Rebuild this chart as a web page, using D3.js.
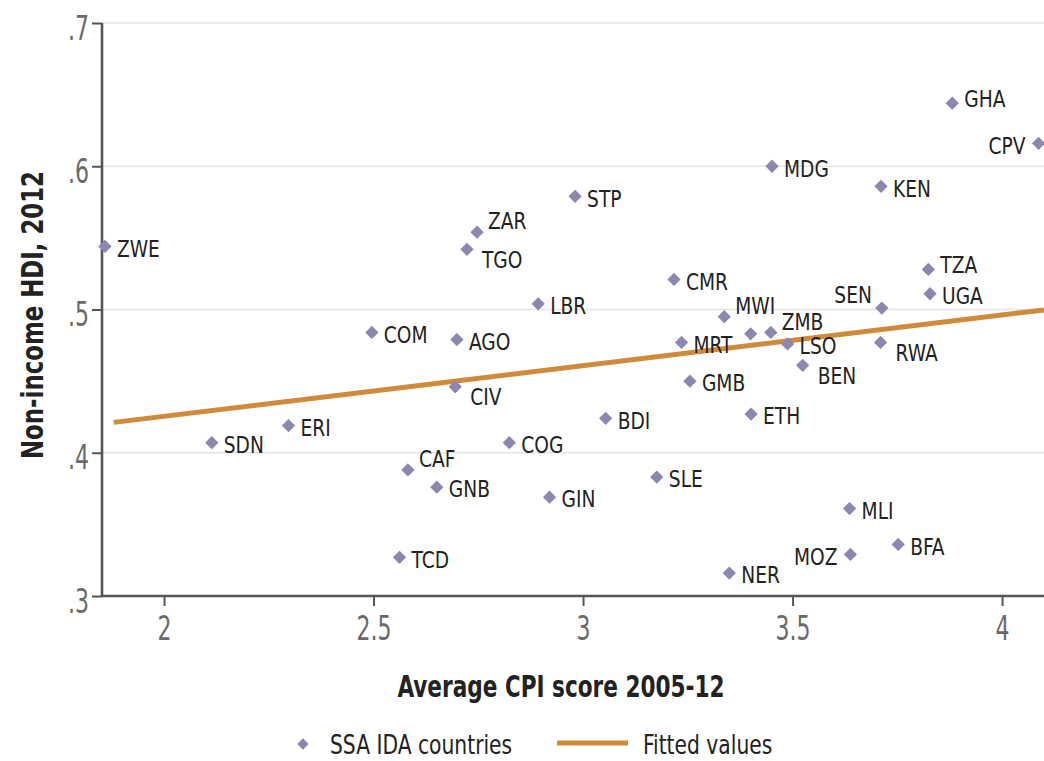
<!DOCTYPE html>
<html>
<head>
<meta charset="utf-8">
<script src="https://cdn.jsdelivr.net/npm/d3@7"></script>
<style>
  html, body { margin: 0; padding: 0; background: #ffffff; }
  svg { display: block; }
  text { font-family: "Liberation Sans Narrow", "DejaVu Sans Condensed", "DejaVu Sans", sans-serif; }
  .light { font-family: "DejaVu Sans ExtraLight", "DejaVu Sans Condensed", "DejaVu Sans", sans-serif; font-weight: 200; }
</style>
</head>
<body>
<svg id="chart" width="1044" height="761"></svg>
<script>
// ---- data ----
const countries = ["ZWE","SDN","ERI","COM","CAF","GNB","TCD","AGO","CIV","TGO","ZAR","LBR","COG","GIN","STP","BDI","SLE","CMR","MRT","GMB","MWI","","ZMB","LSO","BEN","ETH","NER","MDG","MOZ","MLI","KEN","SEN","RWA","BFA","TZA","UGA","GHA","CPV"];
const cpiScore = [1.859,2.114,2.297,2.496,2.582,2.651,2.562,2.699,2.695,2.723,2.747,2.893,2.824,2.920,2.981,3.054,3.176,3.217,3.235,3.255,3.337,3.400,3.448,3.488,3.524,3.401,3.349,3.451,3.638,3.636,3.711,3.713,3.710,3.752,3.824,3.828,3.881,4.087];
const hdiNonIncome = [0.544,0.407,0.419,0.484,0.388,0.376,0.327,0.479,0.446,0.542,0.554,0.504,0.407,0.369,0.579,0.424,0.383,0.521,0.477,0.450,0.495,0.483,0.484,0.476,0.461,0.427,0.316,0.600,0.329,0.361,0.586,0.501,0.477,0.336,0.528,0.511,0.644,0.616];
// marker-label clock positions (Stata mlabvposition style)
const labelPos = [3,3,3,3,2,3,3,3,4,4,2,3,3,3,3,3,3,3,3,3,2,3,2,3,4,3,3,3,9,3,3,10,4,3,1,3,1,9];
const fittedX = [1.88, 4.10];
const fittedY = [0.4212, 0.4997];
const xTicks = [2, 2.5, 3, 3.5, 4];
const yTicks = [0.3, 0.4, 0.5, 0.6, 0.7];
const xTitle = "Average CPI score 2005-12";
const yTitle = "Non-income HDI, 2012";
const legendLabels = ["SSA IDA countries", "Fitted values"];

// ---- layout ----
const svg = d3.select("#chart");
const x = d3.scaleLinear().domain([1.852, 4.10]).range([102, 1044]);
const y = d3.scaleLinear().domain([0.3, 0.7]).range([596, 23]);
const markerColor = "#8a87b0";
const fitColor = "#cf8a3a";
const axisColor = "#555555";
const textColor = "#222222";

// narrow text helper: place text at (px,py) and squeeze horizontally
function narrowText(parent, px, py, str, sx, rot) {
  const g = parent.append("g").attr("transform", `translate(${px},${py})${rot ? ` rotate(${rot})` : ""} scale(${sx},1)`);
  return g.append("text").attr("x", 0).attr("y", 0).text(str);
}

// gridlines
svg.append("g").selectAll("line").data(yTicks.filter(d => d > 0.3)).join("line")
  .attr("x1", x.range()[0]).attr("x2", x.range()[1])
  .attr("y1", d => y(d)).attr("y2", d => y(d))
  .attr("stroke", "#e4e4e4").attr("stroke-width", 1.6);

// fitted line
svg.append("path")
  .datum(fittedX.map((v, i) => [v, fittedY[i]]))
  .attr("d", d3.line().x(d => x(d[0])).y(d => y(d[1])))
  .attr("fill", "none").attr("stroke", fitColor).attr("stroke-width", 5);

// axes
const yFmt = d => d3.format(".1f")(d).replace(/^0/, "");
const xFmt = d => d3.format("")(d);
const yAxis = d3.axisLeft(y).tickValues(yTicks).tickSize(10).tickFormat(yFmt);
const xAxis = d3.axisBottom(x).tickValues(xTicks).tickSize(10).tickFormat(xFmt);

const gy = svg.append("g").attr("transform", `translate(${x.range()[0]},0)`).call(yAxis);
const gx = svg.append("g").attr("transform", `translate(0,${y.range()[0]})`).call(xAxis);
[gx, gy].forEach(g => {
  g.select(".domain").attr("stroke", axisColor).attr("stroke-width", 2.6);
  g.selectAll(".tick line").attr("stroke", axisColor).attr("stroke-width", 2);
  g.selectAll(".tick text").remove();
});
gy.select(".domain").attr("d", `M-0,${y.range()[1]}H0V${y.range()[0]}H-0`);
gx.select(".domain").attr("d", `M${x.range()[0]},0H${x.range()[1]}`);

// tick labels: tall, narrow, light
gy.selectAll(".tick").each(function(d) {
  narrowText(d3.select(this), -13, 4, yFmt(d), 0.72)
    .attr("class", "light").attr("text-anchor", "end").attr("dy", "0.36em")
    .attr("font-size", 34).attr("fill", "#6a6a6a");
});
gx.selectAll(".tick").each(function(d) {
  narrowText(d3.select(this), 0, 32, xFmt(d), 0.72)
    .attr("class", "light").attr("text-anchor", "middle").attr("dy", "0.36em")
    .attr("font-size", 34).attr("fill", "#6a6a6a");
});

// markers
const diamond = d3.symbol().type(d3.symbolSquare).size(88);
svg.append("g").selectAll("path").data(countries).join("path")
  .attr("d", diamond)
  .attr("transform", (d, i) => `translate(${x(cpiScore[i])},${y(hdiNonIncome[i])}) rotate(45)`)
  .attr("fill", markerColor);

// labels
const offsets = {1: [12, -5, "start"], 2: [11, -11, "start"], 3: [12, 2, "start"], 4: [15, 10, "start"], 9: [-13, 2, "end"], 10: [-10, -13, "end"]};
const lblG = svg.append("g");
countries.forEach((c, i) => {
  if (!c) return;
  const o = offsets[labelPos[i]];
  narrowText(lblG, x(cpiScore[i]) + o[0], y(hdiNonIncome[i]) + o[1], c, 0.9)
    .attr("text-anchor", o[2]).attr("dy", "0.36em")
    .attr("font-size", 23).attr("fill", textColor);
});

// axis titles
narrowText(svg, 561, 686, xTitle, 0.775)
  .attr("dy", "0.36em").attr("text-anchor", "middle").attr("font-size", 31)
  .attr("font-weight", "bold").attr("fill", textColor);
narrowText(svg, 32, 315, yTitle, 0.82, -90)
  .attr("dy", "0.36em").attr("text-anchor", "middle").attr("font-size", 31)
  .attr("font-weight", "bold").attr("fill", textColor);

// legend
const lg = svg.append("g");
lg.append("path").attr("d", d3.symbol().type(d3.symbolSquare).size(64))
  .attr("transform", "translate(303,744) rotate(45)").attr("fill", markerColor);
narrowText(lg, 330, 744, legendLabels[0], 0.835)
  .attr("dy", "0.36em").attr("font-size", 27).attr("fill", textColor);
lg.append("line").attr("x1", 557).attr("x2", 628).attr("y1", 743).attr("y2", 743)
  .attr("stroke", fitColor).attr("stroke-width", 5);
narrowText(lg, 643, 744, legendLabels[1], 0.835)
  .attr("dy", "0.36em").attr("font-size", 27).attr("fill", textColor);
</script>
</body>
</html>
